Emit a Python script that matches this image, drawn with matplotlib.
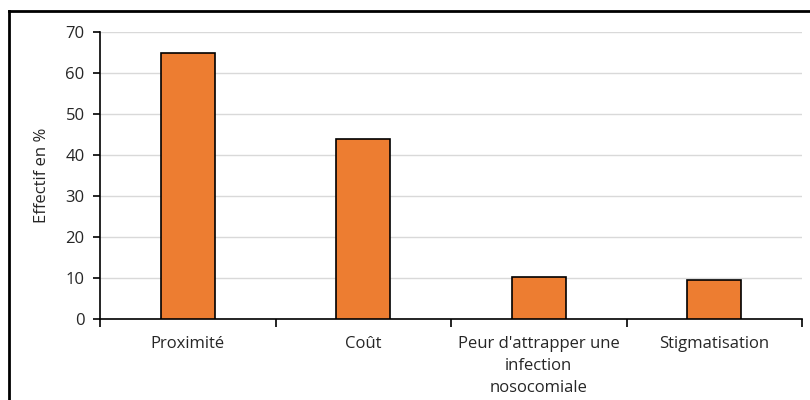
import matplotlib
matplotlib.use('Agg')
import matplotlib.pyplot as plt
from matplotlib.lines import Line2D
import numpy as np

# Raisons du choix de la structure de soins
categories = ['Proximité', 'Coût', "Peur d'attrapper une\ninfection\nnosocomiale", 'Stigmatisation']
effectifs = [65, 44, 10.2, 9.4]

plt.rcParams['font.family'] = ['Open Sans', 'DejaVu Sans']
plt.rcParams['font.size'] = 12

fig = plt.figure(figsize=(8.1, 4.0), dpi=100)
ax = fig.add_axes([100 / 810, 1 - 319 / 400, 702 / 810, 287 / 400])

x = np.arange(len(categories))
ax.bar(x, effectifs, width=0.31, color='#ED7D31', edgecolor='black', linewidth=1.2, zorder=3)

ax.set_xlim(-0.5, len(categories) - 0.5)
ax.set_ylim(0, 70)
ax.set_yticks(range(0, 71, 10))
ax.yaxis.grid(True, color='#d9d9d9', linewidth=1, zorder=0)

# graduations de l'axe x entre les catégories (style Excel)
ax.set_xticks(np.arange(-0.5, len(categories), 1.0))
ax.set_xticklabels([])
ax.set_xticks(x, minor=True)
ax.set_xticklabels(categories, minor=True, color='#262626', linespacing=1.5)
ax.tick_params(axis='x', which='major', length=6, width=1.2, direction='out', color='black')
ax.tick_params(axis='x', which='minor', length=0, pad=12)
ax.tick_params(axis='y', length=5, width=1.2, direction='out', colors='black', labelcolor='#262626', pad=6)

for side in ['top', 'right']:
    ax.spines[side].set_visible(False)
ax.spines['left'].set_linewidth(1.2)
ax.spines['bottom'].set_linewidth(1.2)

ax.set_ylabel('Effectif en %', color='#262626')
ax.yaxis.set_label_coords(-50 / 702, 0.5)

# cadre extérieur
fig.add_artist(Line2D([9 / 810, 9 / 810], [0, 1 - 11 / 400], transform=fig.transFigure, color='black', linewidth=2))
fig.add_artist(Line2D([9 / 810, 1], [1 - 11 / 400, 1 - 11 / 400], transform=fig.transFigure, color='black', linewidth=2))

fig.savefig('out.png', dpi=100)
